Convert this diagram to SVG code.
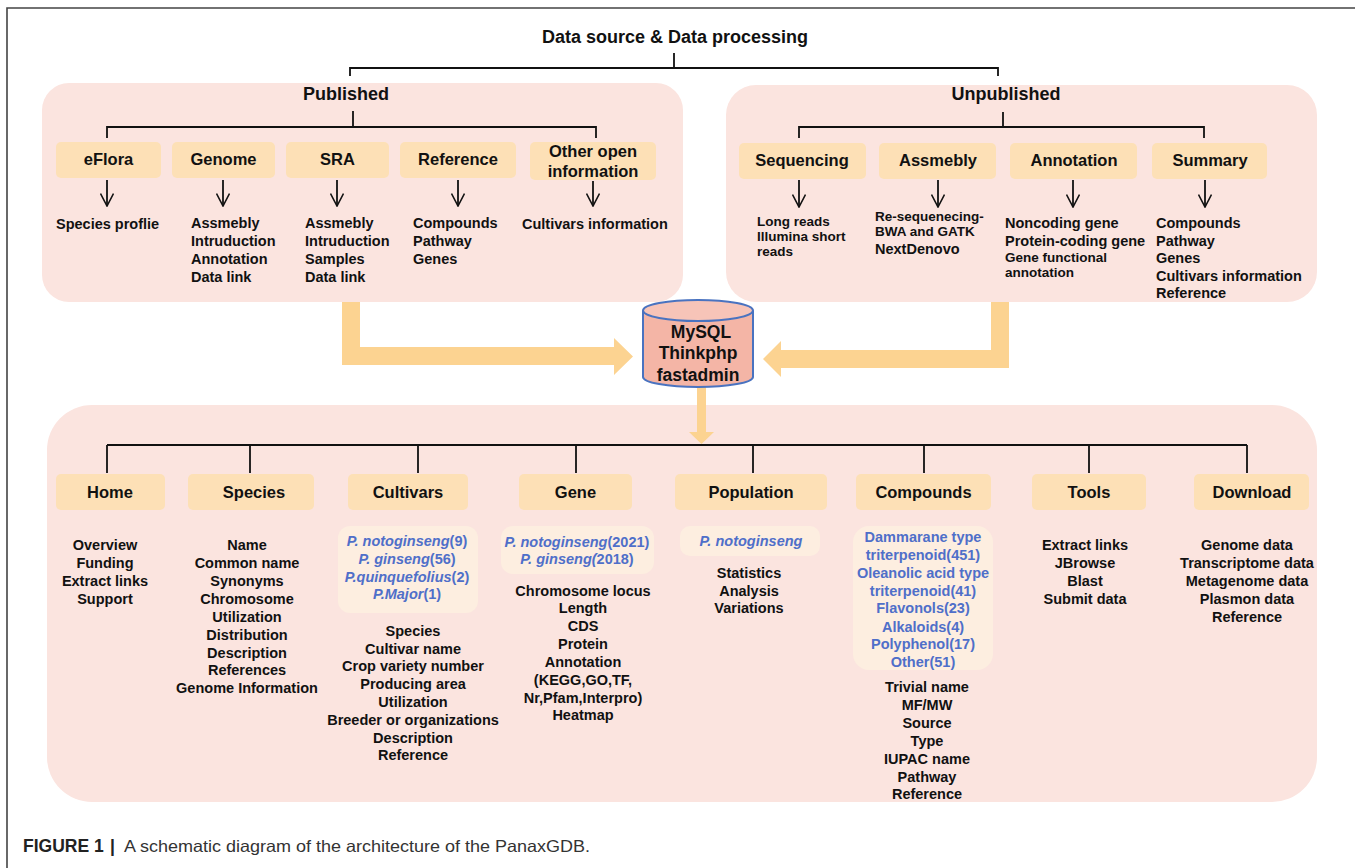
<svg xmlns="http://www.w3.org/2000/svg" width="1355" height="868" viewBox="0 0 1355 868">
<style>
text{font-family:"Liberation Sans",Arial,sans-serif;font-weight:bold;fill:#111}
.h1{font-size:18px;text-anchor:middle}
.lb{font-size:16.5px;text-anchor:middle}
.ls{font-size:14.5px}
.lt{font-size:13.5px}
.lc{font-size:14.5px;text-anchor:middle}
.bl{font-size:14.5px;text-anchor:middle;fill:#4f6fc9}
.it{font-style:italic}
.panel{fill:#fbe4df}
.box{fill:#fde0b6}
.bbox{fill:#fdeee0}
.ln{stroke:#111;stroke-width:1.8;fill:none}
.fat{fill:#fcd391}
</style>
<defs>
<marker id="chev" viewBox="0 0 14 14" refX="13" refY="7" markerWidth="14" markerHeight="14" markerUnits="userSpaceOnUse" orient="auto">
<path d="M0.5,0.5 L13,7 L0.5,13.5" fill="none" stroke="#111" stroke-width="1.6"/>
</marker>
</defs>
<rect width="1355" height="868" fill="#fff"/>
<path d="M7,868 V8 H1355" fill="none" stroke="#444" stroke-width="1.6"/>

<g id="panels">
<rect class="panel" x="42" y="83" width="641" height="219" rx="27"/>
<rect class="panel" x="726" y="85" width="591" height="217" rx="30"/>
<rect class="panel" x="47" y="405" width="1270" height="397" rx="45"/>
</g>

<g id="connectors">
<path class="ln" d="M674,53 V68 M350,76 V68 H998 V76"/>
<path class="ln" d="M353,111 V127 M107,138 V127 H596 V138"/>
<path class="ln" d="M1003,112 V127 M799,138 V127 H1204 V138"/>
<path class="ln" d="M107,445 H1247 M107,445 V473 M250,445 V473 M418,445 V473 M576,445 V473 M753,445 V473 M924,445 V473 M1089,445 V473 M1247,445 V473"/>
<g class="ln" marker-end="url(#chev)">
<line x1="107" y1="180" x2="107" y2="206"/>
<line x1="223" y1="180" x2="223" y2="206"/>
<line x1="337" y1="180" x2="337" y2="206"/>
<line x1="458" y1="180" x2="458" y2="206"/>
<line x1="593" y1="181" x2="593" y2="206"/>
<line x1="799" y1="180" x2="799" y2="207"/>
<line x1="938" y1="180" x2="938" y2="207"/>
<line x1="1073" y1="180" x2="1073" y2="207"/>
<line x1="1205" y1="180" x2="1205" y2="207"/>
</g>
<polygon class="fat" points="342,302 360,302 360,347 614,347 614,338 633,356.5 614,375 614,365 342,365"/>
<polygon class="fat" points="991,302 1009,302 1009,368 781,368 781,377 763,359 781,341 781,350 991,350"/>
<polygon class="fat" points="697,387 706,387 706,432 714,432 701.5,444 689,432 697,432"/>
</g>

<g id="title"><text class="h1" x="675" y="43">Data source &amp; Data processing</text></g>

<g id="published">
<text class="h1" x="346" y="100">Published</text>
</g>
<g id="eflora">
<rect class="box" x="56" y="142" width="105" height="36" rx="5"/>
<text class="lb" x="108.5" y="165">eFlora</text>
<text class="ls" x="56" y="229">Species proflie</text>
</g>
<g id="genome">
<rect class="box" x="172" y="142" width="103" height="36" rx="5"/>
<text class="lb" x="223.5" y="165">Genome</text>
<text class="ls" x="191" y="228">Assmebly</text>
<text class="ls" x="191" y="246">Intruduction</text>
<text class="ls" x="191" y="264">Annotation</text>
<text class="ls" x="191" y="282">Data link</text>
</g>
<g id="sra">
<rect class="box" x="286" y="142" width="103" height="36" rx="5"/>
<text class="lb" x="337.5" y="165">SRA</text>
<text class="ls" x="305" y="228">Assmebly</text>
<text class="ls" x="305" y="246">Intruduction</text>
<text class="ls" x="305" y="264">Samples</text>
<text class="ls" x="305" y="282">Data link</text>
</g>
<g id="reference">
<rect class="box" x="400" y="142" width="116" height="36" rx="5"/>
<text class="lb" x="458" y="165">Reference</text>
<text class="ls" x="413" y="228">Compounds</text>
<text class="ls" x="413" y="246">Pathway</text>
<text class="ls" x="413" y="264">Genes</text>
</g>
<g id="other">
<rect class="box" x="530" y="142" width="126" height="38" rx="5"/>
<text class="lb" x="593" y="157">Other open</text>
<text class="lb" x="593" y="177">information</text>
<text class="ls" x="522" y="229">Cultivars information</text>
</g>

<g id="unpublished">
<text class="h1" x="1006" y="100">Unpublished</text>
</g>
<g id="sequencing">
<rect class="box" x="739" y="143" width="127" height="36" rx="5"/>
<text class="lb" x="802" y="166">Sequencing</text>
<text class="lt" x="757" y="226">Long reads</text>
<text class="lt" x="757" y="241">Illumina short</text>
<text class="lt" x="757" y="256">reads</text>
</g>
<g id="assmebly">
<rect class="box" x="879" y="143" width="117" height="36" rx="5"/>
<text class="lb" x="938" y="166">Assmebly</text>
<text class="lt" x="875" y="221">Re-sequenecing-</text>
<text class="lt" x="875" y="236">BWA and GATK</text>
<text class="ls" x="875" y="254">NextDenovo</text>
</g>
<g id="annotation">
<rect class="box" x="1010" y="143" width="127" height="36" rx="5"/>
<text class="lb" x="1074" y="166">Annotation</text>
<text class="ls" x="1005" y="228">Noncoding gene</text>
<text class="ls" x="1005" y="246">Protein-coding gene</text>
<text class="lt" x="1005" y="262">Gene functional</text>
<text class="lt" x="1005" y="277">annotation</text>
</g>
<g id="summary">
<rect class="box" x="1152" y="143" width="115" height="36" rx="5"/>
<text class="lb" x="1210" y="166">Summary</text>
<text class="ls" x="1156" y="228">Compounds</text>
<text class="ls" x="1156" y="246">Pathway</text>
<text class="ls" x="1156" y="263">Genes</text>
<text class="ls" x="1156" y="281">Cultivars information</text>
<text class="ls" x="1156" y="298">Reference</text>
</g>

<g id="database">
<path d="M643,310.5 V377 A55,10 0 0 0 753,377 V310.5" fill="#f4b5a6" stroke="#4a73c0" stroke-width="2"/>
<ellipse cx="698" cy="310.5" rx="55" ry="10.5" fill="#f7c4b8" stroke="#4a73c0" stroke-width="2"/>
<text class="h1" x="701" y="338" style="font-size:17.5px">MySQL</text>
<text class="h1" x="698" y="359" style="font-size:17.5px">Thinkphp</text>
<text class="h1" x="698" y="381" style="font-size:17.5px">fastadmin</text>
</g>

<g id="home">
<rect class="box" x="56" y="474" width="109" height="36" rx="5"/>
<text class="lb" x="110" y="498">Home</text>
<text class="lc" x="105" y="550">Overview</text>
<text class="lc" x="105" y="568">Funding</text>
<text class="lc" x="105" y="586">Extract links</text>
<text class="lc" x="105" y="604">Support</text>
</g>
<g id="species">
<rect class="box" x="188" y="474" width="126" height="36" rx="5"/>
<text class="lb" x="254" y="498">Species</text>
<text class="lc" x="247" y="550">Name</text>
<text class="lc" x="247" y="568">Common name</text>
<text class="lc" x="247" y="586">Synonyms</text>
<text class="lc" x="247" y="604">Chromosome</text>
<text class="lc" x="247" y="622">Utilization</text>
<text class="lc" x="247" y="640">Distribution</text>
<text class="lc" x="247" y="658">Description</text>
<text class="lc" x="247" y="675">References</text>
<text class="lc" x="247" y="693">Genome Information</text>
</g>
<g id="cultivars">
<rect class="box" x="348" y="474" width="120" height="36" rx="5"/>
<text class="lb" x="408" y="498">Cultivars</text>
<rect class="bbox" x="338" y="526" width="140" height="87" rx="12"/>
<text class="bl" x="407" y="546"><tspan class="it">P. notoginseng</tspan>(9)</text>
<text class="bl" x="407" y="564"><tspan class="it">P. ginseng</tspan>(56)</text>
<text class="bl" x="407" y="582"><tspan class="it">P.quinquefolius</tspan>(2)</text>
<text class="bl" x="407" y="599"><tspan class="it">P.Major</tspan>(1)</text>
<text class="lc" x="413" y="636">Species</text>
<text class="lc" x="413" y="654">Cultivar name</text>
<text class="lc" x="413" y="671">Crop variety number</text>
<text class="lc" x="413" y="689">Producing area</text>
<text class="lc" x="413" y="707">Utilization</text>
<text class="lc" x="413" y="725">Breeder or organizations</text>
<text class="lc" x="413" y="743">Description</text>
<text class="lc" x="413" y="760">Reference</text>
</g>
<g id="gene">
<rect class="box" x="519" y="474" width="113" height="36" rx="5"/>
<text class="lb" x="575.5" y="498">Gene</text>
<rect class="bbox" x="501" y="526" width="153" height="48" rx="12"/>
<text class="bl" x="577" y="547"><tspan class="it">P. notoginseng</tspan>(2021)</text>
<text class="bl" x="577" y="564"><tspan class="it">P. ginseng(</tspan>2018)</text>
<text class="lc" x="583" y="596">Chromosome locus</text>
<text class="lc" x="583" y="613">Length</text>
<text class="lc" x="583" y="631">CDS</text>
<text class="lc" x="583" y="649">Protein</text>
<text class="lc" x="583" y="667">Annotation</text>
<text class="lc" x="583" y="685">(KEGG,GO,TF,</text>
<text class="lc" x="583" y="703">Nr,Pfam,Interpro)</text>
<text class="lc" x="583" y="720">Heatmap</text>
</g>
<g id="population">
<rect class="box" x="675" y="474" width="152" height="36" rx="5"/>
<text class="lb" x="751" y="498">Population</text>
<rect class="bbox" x="680" y="526" width="140" height="30" rx="10"/>
<text class="bl it" x="751" y="546">P. notoginseng</text>
<text class="lc" x="749" y="578">Statistics</text>
<text class="lc" x="749" y="596">Analysis</text>
<text class="lc" x="749" y="613">Variations</text>
</g>
<g id="compounds">
<rect class="box" x="856" y="474" width="135" height="36" rx="5"/>
<text class="lb" x="923.5" y="498">Compounds</text>
<rect class="bbox" x="853" y="526" width="140" height="144" rx="16"/>
<text class="bl" x="923" y="542">Dammarane type</text>
<text class="bl" x="923" y="560">triterpenoid(451)</text>
<text class="bl" x="923" y="578">Oleanolic acid type</text>
<text class="bl" x="923" y="596">triterpenoid(41)</text>
<text class="bl" x="923" y="613">Flavonols(23)</text>
<text class="bl" x="923" y="632">Alkaloids(4)</text>
<text class="bl" x="923" y="649">Polyphenol(17)</text>
<text class="bl" x="923" y="667">Other(51)</text>
<text class="lc" x="927" y="692">Trivial name</text>
<text class="lc" x="927" y="710">MF/MW</text>
<text class="lc" x="927" y="728">Source</text>
<text class="lc" x="927" y="746">Type</text>
<text class="lc" x="927" y="764">IUPAC name</text>
<text class="lc" x="927" y="782">Pathway</text>
<text class="lc" x="927" y="799">Reference</text>
</g>
<g id="tools">
<rect class="box" x="1032" y="474" width="114" height="36" rx="5"/>
<text class="lb" x="1089" y="498">Tools</text>
<text class="lc" x="1085" y="550">Extract links</text>
<text class="lc" x="1085" y="568">JBrowse</text>
<text class="lc" x="1085" y="586">Blast</text>
<text class="lc" x="1085" y="604">Submit data</text>
</g>
<g id="download">
<rect class="box" x="1194" y="474" width="115" height="36" rx="5"/>
<text class="lb" x="1252" y="498">Download</text>
<text class="lc" x="1247" y="550">Genome data</text>
<text class="lc" x="1247" y="568">Transcriptome data</text>
<text class="lc" x="1247" y="586">Metagenome data</text>
<text class="lc" x="1247" y="604">Plasmon data</text>
<text class="lc" x="1247" y="622">Reference</text>
</g>

<g id="caption">
<text x="23" y="852" style="font-size:17.5px;fill:#222">FIGURE 1</text>
<text x="110" y="852" style="font-size:17.5px;fill:#222">|</text>
<text x="124" y="852" textLength="466" lengthAdjust="spacingAndGlyphs" style="font-size:16.5px;font-weight:normal;fill:#333">A schematic diagram of the architecture of the PanaxGDB.</text>
</g>
</svg>
